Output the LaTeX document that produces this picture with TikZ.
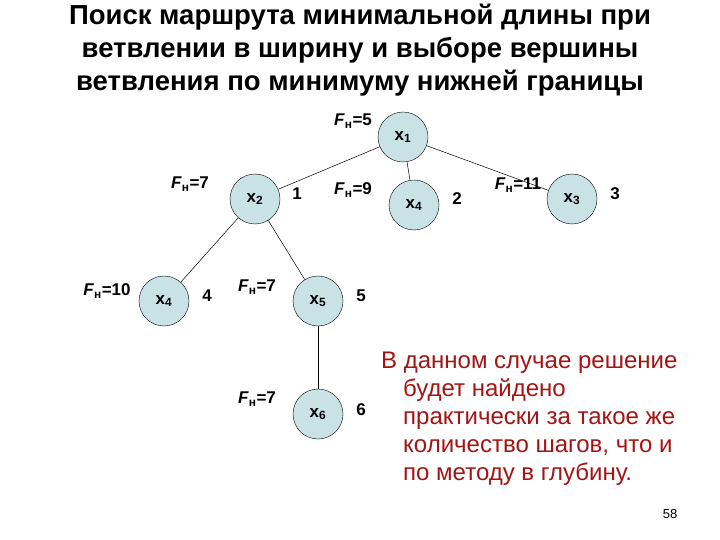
\documentclass[tikz,border=0pt]{standalone}
\usepackage{fontspec}
\setmainfont{Liberation Sans}
\begin{document}
\begin{tikzpicture}[x=1pt,y=-1pt,
  vert/.style={circle,draw=black,fill=nodefill,minimum size=50pt,inner sep=0pt,font=\fontsize{17}{20}\selectfont\bfseries},
  lab/.style={font=\fontsize{17}{20}\selectfont\bfseries},
  edge/.style={draw=black,line width=0.5pt}]
\definecolor{nodefill}{RGB}{200,226,230}
\definecolor{txtred}{RGB}{165,20,20}
\useasboundingbox (0,0) rectangle (720,540);
\node[font=\fontsize{27.5}{33}\selectfont\bfseries,align=center] (title) at (360,50) {Поиск маршрута минимальной длины при\\ветвлении в ширину и выборе вершины\\ветвления по минимуму нижней границы};
\node[vert] (x1) at (403,137) {x\textsubscript{1}};
\node[vert] (x2) at (255,199) {x\textsubscript{2}};
\node[vert] (x4a) at (414,205) {x\textsubscript{4}};
\node[vert] (x3) at (572,199) {x\textsubscript{3}};
\node[vert] (x4b) at (164,301) {x\textsubscript{4}};
\node[vert] (x5) at (318,301) {x\textsubscript{5}};
\node[vert] (x6) at (318,414) {x\textsubscript{6}};
\draw[edge] (x1) -- (x2);
\draw[edge] (x1) -- (x4a);
\draw[edge] (x1) -- (x3);
\draw[edge] (x2) -- (x4b);
\draw[edge] (x2) -- (x5);
\draw[edge] (x5) -- (x6);
\node[lab] (f1) at (353,121) {\textit{F}\textsubscript{н}=5};
\node[lab] (f2) at (190,184) {\textit{F}\textsubscript{н}=7};
\node[lab] (f3) at (353,190) {\textit{F}\textsubscript{н}=9};
\node[lab] (f4) at (518,185) {\textit{F}\textsubscript{н}=11};
\node[lab] (f5) at (107,291) {\textit{F}\textsubscript{н}=10};
\node[lab] (f6) at (257,287) {\textit{F}\textsubscript{н}=7};
\node[lab] (f7) at (257,399) {\textit{F}\textsubscript{н}=7};
\node[lab] (n1) at (297,194) {1};
\node[lab] (n2) at (457,199) {2};
\node[lab] (n3) at (615,194) {3};
\node[lab] (n4) at (207,296) {4};
\node[lab] (n5) at (361,296) {5};
\node[lab] (n6) at (361,410) {6};
\node[anchor=north west,align=left,text=txtred,font=\fontsize{24}{28}\selectfont,inner sep=0pt] (txt) at (381,352) {В данном случае решение\\\hspace*{22pt}будет найдено\\\hspace*{22pt}практически за такое же\\\hspace*{22pt}количество шагов, что и\\\hspace*{22pt}по методу в глубину.};
\node[font=\fontsize{13}{15}\selectfont] (pg) at (670,514) {58};
\end{tikzpicture}
\end{document}
